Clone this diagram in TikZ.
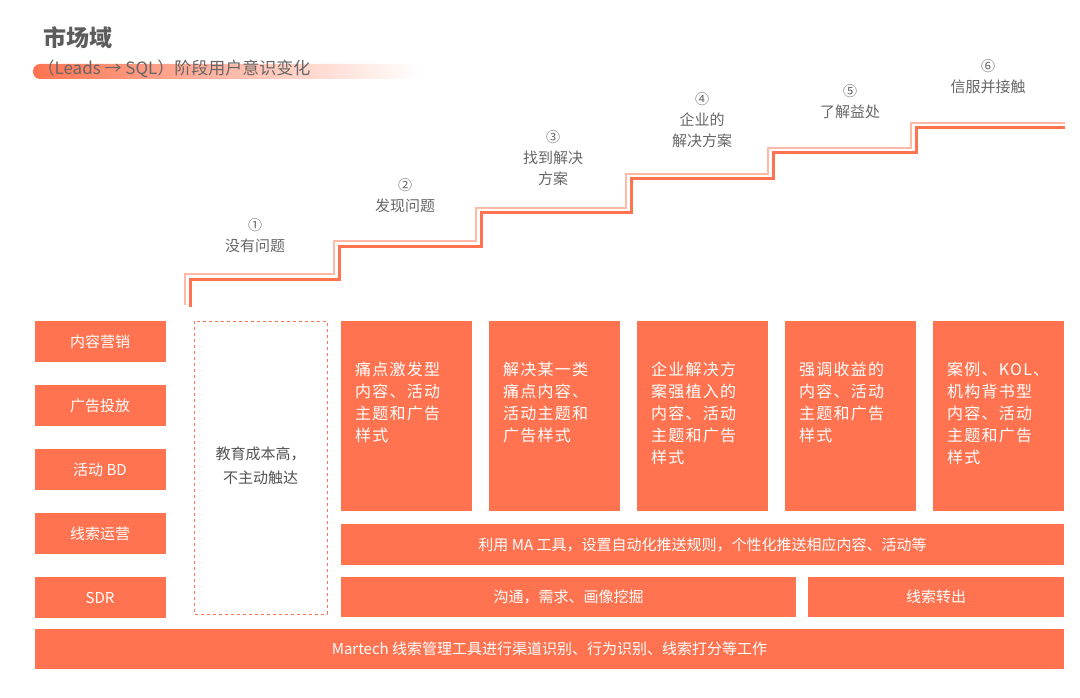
\documentclass[tikz,border=0pt]{standalone}
\usepackage{fontspec}
\setmainfont{Noto Sans CJK SC}
\usetikzlibrary{positioning}
\definecolor{mkorange}{HTML}{FF7350}
\definecolor{mklight}{HTML}{FFB9A6}
\definecolor{mkgrey}{HTML}{666666}
\begin{document}
\begin{tikzpicture}[x=1pt,y=-1pt,
    obox/.style={rectangle, fill=mkorange, text=white, inner sep=0pt, font=\fontsize{15}{18}\selectfont},
    tall/.style={obox, minimum width=131pt, minimum height=190pt},
    step label/.style={text=mkgrey, align=center, font=\fontsize{15}{21}\selectfont},
    num/.style={text=mkgrey, font=\fontsize{14}{16}\selectfont}
]
\useasboundingbox (0,0) rectangle (1080,698);

% Title
\shade[left color=mkorange, right color=white, rounded corners=7pt] (33,64) rectangle (420,79);
\node[anchor=west, text=mkgrey!90!black, font=\fontsize{23}{26}\selectfont\bfseries] (title) at (40,38) {市场域};
\node[anchor=west, text=mkgrey, font=\fontsize{17}{20}\selectfont] (subtitle) at (34,69) {（Leads → SQL）阶段用户意识变化};

% Staircase
\draw[mklight, line width=1.2pt] (185,305) -- (185,274) -- (334,274) -- (334,241) -- (476,241) -- (476,208) -- (626,208) -- (626,174) -- (768,174) -- (768,148) -- (911,148) -- (911,123) -- (1065,123);
\draw[mkorange, line width=3pt] (190,307) -- (190,279) -- (339,279) -- (339,246) -- (481,246) -- (481,213) -- (631,213) -- (631,179) -- (773,179) -- (773,153) -- (916,153) -- (916,128) -- (1065,128);

% Step labels
\node[num] (n1) at (255,225) {①};
\node[step label, below=0pt of n1] (s1) {没有问题};
\node[num] (n2) at (405,185) {②};
\node[step label, below=0pt of n2] (s2) {发现问题};
\node[num] (n3) at (553,137) {③};
\node[step label, below=0pt of n3] (s3) {找到解决\\方案};
\node[num] (n4) at (702,99) {④};
\node[step label, below=0pt of n4] (s4) {企业的\\解决方案};
\node[num] (n5) at (850,91) {⑤};
\node[step label, below=0pt of n5] (s5) {了解益处};
\node[num] (n6) at (988,66) {⑥};
\node[step label, below=0pt of n6] (s6) {信服并接触};

% Left column
\foreach \t/\y [count=\i] in {内容营销/341.5, 广告投放/405.5, 活动 BD/469.5, 线索运营/533.5, SDR/597.5}
  \node[obox, minimum width=131pt, minimum height=41pt] (side\i) at (100,\y) {\t};

% Dashed box
\draw[mkorange, dashed, line width=1pt] (194,321) rectangle (327,614);
\node[text=mkgrey!80!black, align=center, font=\fontsize{15}{24}\selectfont] (edu) at (260.5,466) {教育成本高，\\不主动触达};

% Content boxes
\node[tall] (c1) at (406.5,416) {};
\node[tall] (c2) at (554.5,416) {};
\node[tall] (c3) at (702.5,416) {};
\node[tall] (c4) at (850.5,416) {};
\node[tall] (c5) at (998.5,416) {};
\foreach \i/\t in {1/{痛点激发型\\内容、活动\\主题和广告\\样式}, 2/{解决某一类\\痛点内容、\\活动主题和\\广告样式}, 3/{企业解决方\\案强植入的\\内容、活动\\主题和广告\\样式}, 4/{强调收益的\\内容、活动\\主题和广告\\样式}, 5/{案例、KOL、\\机构背书型\\内容、活动\\主题和广告\\样式}}
  \node[anchor=north west, text=white, align=left, inner sep=0pt, font=\fontsize{16}{22}\selectfont\addfontfeature{LetterSpace=8}] at ([xshift=14pt,yshift=-41pt]c\i.north west) {\t};

% Bars
\node[obox, minimum width=723pt, minimum height=41pt] (ma) at (702.5,544.5) {利用 MA 工具，设置自动化推送规则，个性化推送相应内容、活动等};
\node[obox, minimum width=455pt, minimum height=40pt] (talk) at (568.5,597) {沟通，需求、画像挖掘};
\node[obox, minimum width=256pt, minimum height=40pt] (out) at (936,597) {线索转出};
\node[obox, minimum width=1029pt, minimum height=40pt] (martech) at (549.5,649) {Martech 线索管理工具进行渠道识别、行为识别、线索打分等工作};
\end{tikzpicture}
\end{document}
